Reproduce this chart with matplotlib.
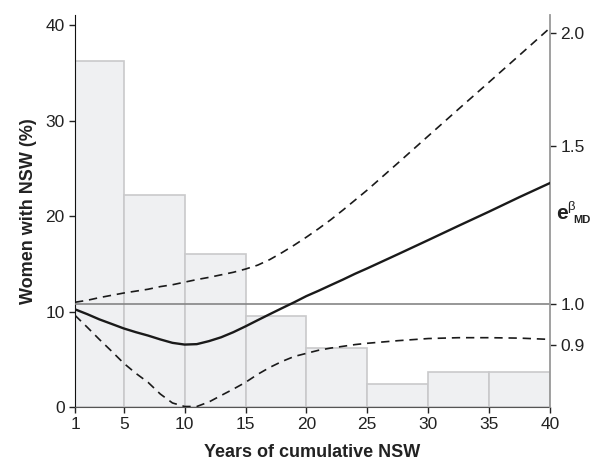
import numpy as np
import matplotlib
matplotlib.use("Agg")
import matplotlib.pyplot as plt

plt.rcParams["font.family"] = ["Liberation Sans", "DejaVu Sans"]

# histogram: share of women by years of cumulative NSW
bin_edges = [1, 5, 10, 15, 20, 25, 30, 35, 40]
women_pct = [36.2, 22.2, 16.0, 9.5, 6.2, 2.4, 3.7, 3.7]

# e^beta_MD curve with confidence band
years = [1, 2, 3, 4, 5, 6, 7, 8, 9, 10, 11, 12, 13, 14, 15, 16, 17, 18, 19,
         20, 21, 22, 23, 24, 25, 27.5, 30, 32.5, 35, 37.5, 40]
ratio = [0.987, 0.975, 0.962, 0.951, 0.940, 0.931, 0.923, 0.914, 0.906,
         0.902, 0.903, 0.910, 0.919, 0.931, 0.945, 0.960, 0.975, 0.990,
         1.005, 1.021, 1.035, 1.050, 1.065, 1.081, 1.096, 1.136, 1.178,
         1.222, 1.267, 1.315, 1.363]
ratio_lo = [0.972, 0.943, 0.914, 0.887, 0.860, 0.838, 0.819, 0.795, 0.777,
            0.770, 0.770, 0.779, 0.792, 0.805, 0.819, 0.836, 0.851, 0.864,
            0.875, 0.882, 0.889, 0.894, 0.898, 0.902, 0.905, 0.911, 0.916,
            0.918, 0.918, 0.917, 0.914]
ratio_hi = [1.005, 1.010, 1.017, 1.023, 1.029, 1.034, 1.039, 1.046, 1.051,
            1.058, 1.065, 1.071, 1.078, 1.085, 1.094, 1.105, 1.121, 1.141,
            1.163, 1.187, 1.213, 1.241, 1.272, 1.305, 1.339, 1.434, 1.537,
            1.647, 1.764, 1.890, 2.026]

x_ticks = [1, 5, 10, 15, 20, 25, 30, 35, 40]
left_ticks = [0, 10, 20, 30, 40]
right_ticks = [0.9, 1.0, 1.5, 2.0]

fig = plt.figure(figsize=(6.03, 4.61), dpi=100)
ax = fig.add_axes([75 / 603, 54 / 461, 475 / 603, 392 / 461])

lefts = bin_edges[:-1]
widths = np.diff(bin_edges)
ax.bar(lefts, women_pct, width=widths, align="edge", color="#eff0f2",
       edgecolor="#c9c9cb", linewidth=1.2, zorder=1)

ax.set_xlim(1, 40)
ax.set_ylim(0, 41.05)
ax.set_xticks(x_ticks)
ax.set_yticks(left_ticks)
ax.tick_params(axis="both", labelsize=12.5, colors="#222222", length=4, width=1)
ax.spines["top"].set_visible(False)
ax.spines["right"].set_visible(False)
ax.spines["left"].set_color("#111111")
ax.spines["bottom"].set_color("#555555")
ax.set_xlabel("Years of cumulative NSW", fontsize=13, fontweight="bold",
              color="#222222", labelpad=8)
ax.set_ylabel("Women with NSW (%)", fontsize=13, fontweight="bold",
              color="#222222", labelpad=6)

ax2 = ax.twinx()
ax2.set_yscale("log")
ax2.set_ylim(0.769, 2.094)
ax2.axhline(1.0, color="#858585", linewidth=1.2, zorder=2)
ax2.plot(years, ratio, color="#1a1a1a", linewidth=1.7, zorder=3)
ax2.plot(years, ratio_lo, color="#1a1a1a", linewidth=1.2,
         linestyle=(0, (5, 3.5)), zorder=3)
ax2.plot(years, ratio_hi, color="#1a1a1a", linewidth=1.2,
         linestyle=(0, (5, 3.5)), zorder=3)
ax2.set_yticks(right_ticks)
ax2.set_yticklabels([f"{t:.1f}" for t in right_ticks])
ax2.yaxis.set_minor_locator(matplotlib.ticker.NullLocator())
ax2.tick_params(axis="y", labelsize=12.5, colors="#222222", length=4, width=1)
for s in ["top", "left", "bottom"]:
    ax2.spines[s].set_visible(False)
ax2.spines["right"].set_color("#999999")
ax2.spines["right"].set_linewidth(1.3)

# right axis label: e^beta with MD subscript
fig.text(556 / 603, 1 - 219 / 461, "e", fontsize=15, fontweight="bold",
         ha="left", va="baseline", color="#222222")
fig.text(567 / 603, 1 - 210 / 461, "β", fontsize=9.5,
         ha="left", va="baseline", color="#222222")
fig.text(573 / 603, 1 - 223 / 461, "MD", fontsize=8, fontweight="bold",
         ha="left", va="baseline", color="#222222")

fig.savefig("out.png", dpi=100)
